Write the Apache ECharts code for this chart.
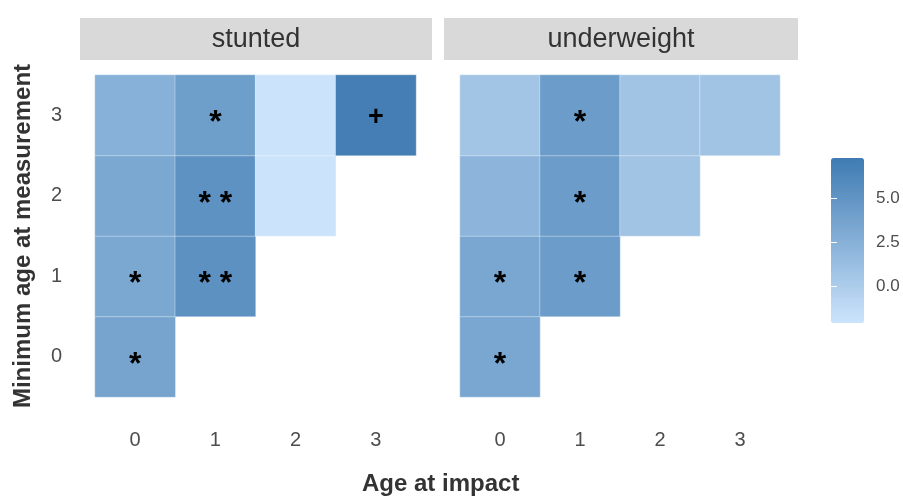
<!DOCTYPE html>
<html>
<head>
<meta charset="utf-8">
<script src="https://cdn.jsdelivr.net/npm/echarts@6/dist/echarts.min.js"></script>
<style>html,body{margin:0;padding:0;background:#fff}#c{width:903px;height:497px}</style>
</head>
<body>
<div id="c"></div>
<script>
// ---- data ----
const ageAtImpact = ['0', '1', '2', '3'];
const minAgeAtMeasurement = ['0', '1', '2', '3'];
const panels = ['stunted', 'underweight'];
// [ageAtImpact index, minAge index, value]
const stuntedValues = [
  [0, 0, 3.6], [0, 1, 3.3], [0, 2, 3.3], [0, 3, 2.5],
  [1, 1, 5.3], [1, 2, 5.2], [1, 3, 4.2],
  [2, 2, -2.0], [2, 3, -2.0],
  [3, 3, 7.0]
];
const stuntedLabels = ['*', '*', '', '', '**', '**', '*', '', '', '+'];
const underweightValues = [
  [0, 0, 3.4], [0, 1, 3.4], [0, 2, 2.1], [0, 3, 0.7],
  [1, 1, 4.3], [1, 2, 4.3], [1, 3, 4.3],
  [2, 2, 0.8], [2, 3, 0.8],
  [3, 3, 0.8]
];
const underweightLabels = ['*', '*', '', '', '*', '*', '*', '', '', ''];
const legendTicks = [0, 2.5, 5.0];
const colorMin = -2.1, colorMax = 7.3;

const tickColor = '#4d4d4d';
function mk(values, labels) {
  return values.map((v, i) => ({ value: v, label: labels[i] }));
}
const labelStyle = {
  show: true,
  formatter: p => {
    const s = p.data.label || '';
    return s === '+' ? '{p|+}' : s.split('').join(' ');
  },
  color: '#000',
  fontFamily: 'Liberation Sans',
  fontWeight: 'bold',
  fontSize: 32,
  offset: [0, 8],
  rich: { p: { fontSize: 27, fontWeight: 'bold', color: '#000', fontFamily: 'Liberation Sans', padding: [0, 0, 12, 0] } }
};

const chart = echarts.init(document.getElementById('c'));
const option = {
  backgroundColor: '#fff',
  animation: false,
  grid: [
    { left: 95, top: 75, width: 321, height: 322 },
    { left: 460, top: 75, width: 320, height: 322 },
    { left: 831, top: 158, width: 33, height: 165 }
  ],
  xAxis: [0, 1].map(i => ({
    type: 'category', gridIndex: i, data: ageAtImpact,
    axisLine: { show: false }, axisTick: { show: false }, splitLine: { show: false },
    axisLabel: { color: tickColor, fontSize: 20, margin: 33, fontFamily: 'Liberation Sans' }
  })).concat([{ type: 'value', gridIndex: 2, min: 0, max: 1, show: false }]),
  yAxis: [0, 1].map(i => ({
    type: 'category', gridIndex: i, data: minAgeAtMeasurement,
    axisLine: { show: false }, axisTick: { show: false }, splitLine: { show: false },
    axisLabel: { show: i === 0, color: tickColor, fontSize: 20, margin: 33, fontFamily: 'Liberation Sans' },
    name: i === 0 ? 'Minimum age at measurement' : '',
    nameLocation: 'middle', nameGap: 60,
    nameTextStyle: { color: '#333', fontSize: 24, fontWeight: 'bold', fontFamily: 'Liberation Sans' }
  })).concat([
    {
      type: 'value', gridIndex: 2, min: colorMin, max: colorMax, position: 'right', z: 20,
      axisLine: { show: false }, splitLine: { show: false },
      axisTick: { show: true, inside: true, length: 6, customValues: legendTicks, lineStyle: { color: '#fff', width: 1 } },
      axisLabel: { show: true, customValues: legendTicks, margin: 12, color: tickColor, fontSize: 17, fontFamily: 'Liberation Sans', formatter: v => v.toFixed(1) }
    },
    {
      type: 'value', gridIndex: 2, min: colorMin, max: colorMax, position: 'left', z: 20,
      axisLine: { show: false }, splitLine: { show: false },
      axisTick: { show: true, inside: true, length: 6, customValues: legendTicks, lineStyle: { color: '#fff', width: 1 } },
      axisLabel: { show: false }
    }
  ]),
  visualMap: {
    type: 'continuous', min: colorMin, max: colorMax, seriesIndex: [0, 1], dimension: 2,
    calculable: false, left: 831, top: 158, itemWidth: 33, itemHeight: 165, padding: 0,
    text: ['', ''], showLabel: false, z: 1,
    inRange: { color: ['#cce4fc', '#3f7bb2'] }
  },
  title: [
    {
      text: 'Age at impact', left: 362, top: 472, padding: 0,
      textStyle: { color: '#333', fontSize: 24, fontWeight: 'bold', fontFamily: 'Liberation Sans' }
    }
  ],
  graphic: panels.map((p, i) => ({
    type: 'group',
    left: i === 0 ? 80 : 444, top: 18,
    children: [
      { type: 'rect', shape: { x: 0, y: 0, width: i === 0 ? 352 : 354, height: 42 }, style: { fill: '#d9d9d9' } },
      { type: 'text', x: (i === 0 ? 352 : 354) / 2, y: 22, style: { text: p, fill: '#333', fontSize: 27, fontFamily: 'Liberation Sans', textAlign: 'center', textVerticalAlign: 'middle' } }
    ]
  })),
  series: [
    {
      type: 'heatmap', xAxisIndex: 0, yAxisIndex: 0,
      data: mk(stuntedValues, stuntedLabels),
      itemStyle: { borderColor: 'rgba(255,255,255,0.35)', borderWidth: 1 },
      label: labelStyle
    },
    {
      type: 'heatmap', xAxisIndex: 1, yAxisIndex: 1,
      data: mk(underweightValues, underweightLabels),
      itemStyle: { borderColor: 'rgba(255,255,255,0.35)', borderWidth: 1 },
      label: labelStyle
    }
  ]
};
chart.setOption(option);
</script>
</body>
</html>
